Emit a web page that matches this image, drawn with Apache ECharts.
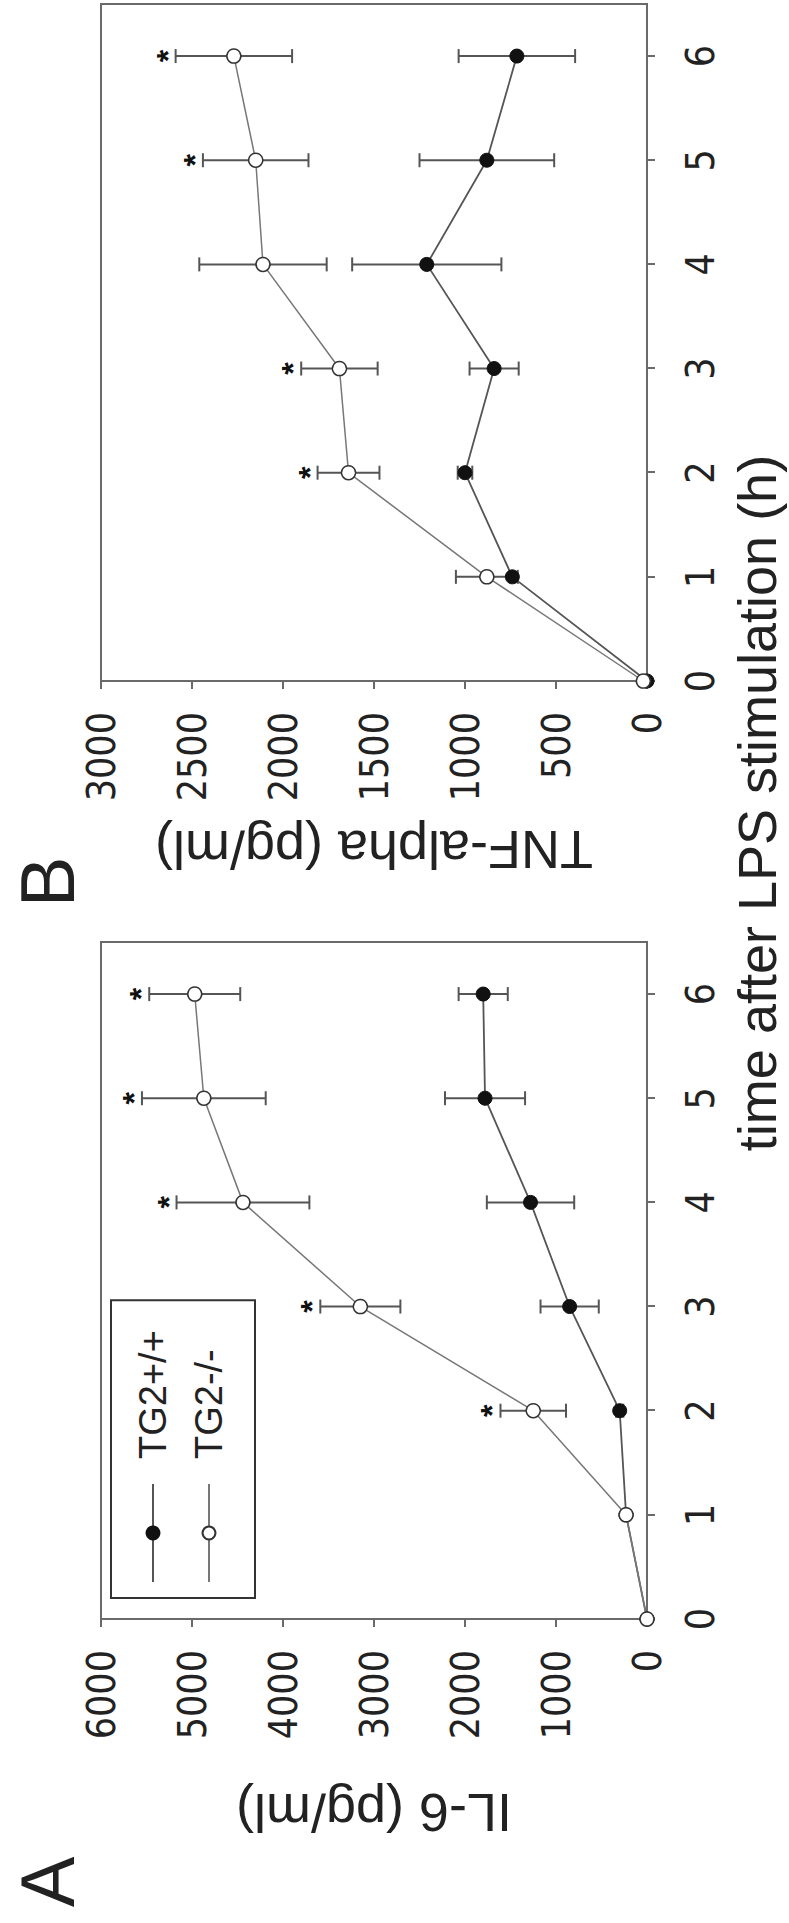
<!DOCTYPE html>
<html><head><meta charset="utf-8">
<script src="https://cdn.jsdelivr.net/npm/echarts@6/dist/echarts.min.js"></script>
<style>
html,body{margin:0;padding:0;background:#fff;overflow:hidden;}
#wrap{position:absolute;left:0;top:0;width:789px;height:1923px;overflow:hidden;background:#fff;}
#chart{position:absolute;left:0;top:0;width:1923px;height:789px;transform-origin:0 0;transform:translate(0,1923px) rotate(-90deg);}
</style></head>
<body><div id="wrap"><div id="chart"></div></div>
<script>
// ---- data ----
const hours = [0, 1, 2, 3, 4, 5, 6];
const timeTicks = [0, 1, 2, 3, 4, 5, 6];
const seriesNames = ['TG2+/+', 'TG2-/-'];

const il6WT   = [0, 230, 300, 850, 1280, 1780, 1800];
const il6WTerr = [0, 0, 40, 320, 480, 440, 270];
const il6KO   = [0, 230, 1250, 3150, 4440, 4870, 4970];
const il6KOerr = [0, 0, 360, 440, 730, 680, 500];
const il6Sig  = [0, 0, 1, 1, 1, 1, 1];

const tnfWT   = [0, 740, 1000, 840, 1210, 880, 715];
const tnfWTerr = [0, 0, 40, 135, 410, 370, 320];
const tnfKO   = [20, 880, 1640, 1690, 2110, 2150, 2270];
const tnfKOerr = [0, 170, 170, 210, 350, 290, 320];
const tnfSig  = [0, 0, 1, 1, 0, 1, 1];

const il6Ticks = { min: 0, max: 6000, interval: 1000 };
const tnfTicks = { min: 0, max: 3000, interval: 500 };

// ---- styling ----
const narrow = "'Liberation Sans Narrow','Arial Narrow','DejaVu Sans Condensed','Liberation Sans',sans-serif";
const sans = "'Liberation Sans',Arial,sans-serif";
const axisCol = '#6a6a6a';
const txtCol = '#222';

function pts(vals) { return hours.map((h, i) => [h, vals[i]]); }
function errData(vals, errs, sig) {
  return hours.map((h, i) => [h, vals[i] - errs[i], vals[i] + errs[i], sig ? sig[i] : 0]);
}
function errRender(params, api) {
  const t = api.value(0), lo = api.value(1), hi = api.value(2), s = api.value(3);
  const pLo = api.coord([t, lo]);
  const pHi = api.coord([t, hi]);
  const c = 7;
  const st = { stroke: '#555', lineWidth: 2 };
  const ch = [];
  if (hi > lo) {
    ch.push({ type: 'line', shape: { x1: pLo[0], y1: pLo[1], x2: pHi[0], y2: pHi[1] }, style: st });
    ch.push({ type: 'line', shape: { x1: pLo[0] - c, y1: pLo[1], x2: pLo[0] + c, y2: pLo[1] }, style: st });
    ch.push({ type: 'line', shape: { x1: pHi[0] - c, y1: pHi[1], x2: pHi[0] + c, y2: pHi[1] }, style: st });
  }
  if (s) {
    ch.push({ type: 'text', x: pHi[0], y: pHi[1] - 8,
      style: { text: '*', font: 'bold 32px ' + sans, fill: '#111', align: 'center', verticalAlign: 'middle', textAlign: 'center', textVerticalAlign: 'middle' } });
  }
  return { type: 'group', children: ch };
}

function timeAxis(gi) {
  return {
    type: 'value', gridIndex: gi, min: 0, max: 6.5, interval: 1,
    axisLine: { show: true, onZero: false, lineStyle: { color: axisCol, width: 2 } },
    axisTick: { show: true, length: 8, customValues: timeTicks, lineStyle: { color: axisCol, width: 2 } },
    axisLabel: { customValues: timeTicks, margin: 34, fontSize: 39, fontFamily: narrow, color: txtCol },
    splitLine: { show: false }
  };
}
function valAxis(gi, tk, name, gap) {
  return {
    type: 'value', gridIndex: gi, min: tk.min, max: tk.max, interval: tk.interval,
    name: name, nameLocation: 'middle', nameGap: gap, nameRotate: 90,
    nameTextStyle: { fontSize: 54, fontFamily: sans, color: txtCol },
    axisLine: { show: true, onZero: false, lineStyle: { color: axisCol, width: 2 } },
    axisTick: { show: true, length: 8, lineStyle: { color: axisCol, width: 2 } },
    axisLabel: { margin: 31, fontSize: 39, fontFamily: narrow, color: txtCol, formatter: v => String(v) },
    splitLine: { show: false }
  };
}
function lineSeries(name, gi, vals, filled) {
  return {
    name: name, type: 'line', xAxisIndex: gi, yAxisIndex: gi, data: pts(vals),
    symbol: 'circle', symbolSize: 14, z: 3,
    itemStyle: filled ? { color: '#111', borderColor: '#111', borderWidth: 1 } : { color: '#fff', borderColor: '#333', borderWidth: 1.5 },
    lineStyle: filled ? { color: '#555', width: 1.8 } : { color: '#777', width: 1.5 }
  };
}
function errSeries(gi, vals, errs, sig) {
  return { type: 'custom', xAxisIndex: gi, yAxisIndex: gi, renderItem: errRender, data: errData(vals, errs, sig), z: 2, silent: true };
}

const chart = echarts.init(document.getElementById('chart'), null, { renderer: 'svg', width: 1923, height: 789 });
chart.setOption({
  animation: false,
  backgroundColor: '#fff',
  grid: [
    { left: 304, right: 942, top: 101, bottom: 142, show: true, borderColor: axisCol, borderWidth: 2, backgroundColor: '#fff' },
    { left: 1242, right: 4, top: 101, bottom: 142, show: true, borderColor: axisCol, borderWidth: 2, backgroundColor: '#fff' }
  ],
  xAxis: [timeAxis(0), timeAxis(1)],
  yAxis: [valAxis(0, il6Ticks, 'IL-6 (pg/ml)', 167), valAxis(1, tnfTicks, 'TNF-alpha (pg/ml)', 142)],
  legend: {
    data: seriesNames, orient: 'vertical', left: 325, top: 111,
    padding: [23, 30, 27, 15], itemGap: 18, itemWidth: 98, itemHeight: 16,
    borderColor: '#333', borderWidth: 2, backgroundColor: '#fff',
    textStyle: { fontSize: 38, fontFamily: sans, color: txtCol, padding: [0, 0, 0, 20] },
    selectedMode: false
  },
  graphic: [
    { type: 'text', x: 41, y: 47, style: { text: 'A', font: '76px ' + sans, fill: txtCol, align: 'center', verticalAlign: 'middle', textAlign: 'center', textVerticalAlign: 'middle' } },
    { type: 'text', x: 1041, y: 47, style: { text: 'B', font: '76px ' + sans, fill: txtCol, align: 'center', verticalAlign: 'middle', textAlign: 'center', textVerticalAlign: 'middle' } },
    { type: 'text', x: 1120, y: 757, style: { text: 'time after LPS stimulation (h)', font: '54px ' + sans, fill: txtCol, align: 'center', verticalAlign: 'middle', textAlign: 'center', textVerticalAlign: 'middle' } }
  ],
  series: [
    errSeries(0, il6WT, il6WTerr, null),
    errSeries(0, il6KO, il6KOerr, il6Sig),
    lineSeries(seriesNames[0], 0, il6WT, true),
    lineSeries(seriesNames[1], 0, il6KO, false),
    errSeries(1, tnfWT, tnfWTerr, null),
    errSeries(1, tnfKO, tnfKOerr, tnfSig),
    lineSeries(seriesNames[0], 1, tnfWT, true),
    lineSeries(seriesNames[1], 1, tnfKO, false)
  ]
});
</script>
</body></html>
